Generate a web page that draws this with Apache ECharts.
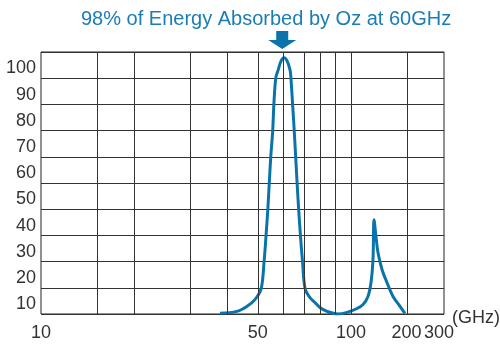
<!DOCTYPE html>
<html>
<head>
<meta charset="utf-8">
<script src="https://cdn.jsdelivr.net/npm/echarts@6/dist/echarts.min.js"></script>
<style>
  html, body { margin: 0; padding: 0; background: #fff; }
  #chart { width: 500px; height: 344px; }
</style>
</head>
<body>
<div id="chart"></div>
<script>
// frequency (GHz) and absorption (%)
const freqs = [37.8, 42.8, 46.1, 49.0, 51.3, 52.4, 53.2, 53.9, 54.5, 55.1, 55.9, 56.4, 57.2, 58.2, 59.5, 60.8,
  62.2, 63.6, 64.0, 64.8, 65.6, 66.3, 67.0, 67.8, 68.7, 69.8, 71.1, 73.8, 76.5, 79.4, 83.7, 90.8, 97.1,
  107.8, 116.2, 123.6, 128.4, 131.6, 133.3, 136.6, 140.1, 147.3, 156.7, 169.0, 184.4, 196.0]
const absorbed = [0.3, 1.0, 2.9, 5.5, 9.7, 19.6, 29.9, 39.8, 50.1, 60.0, 69.9, 80.2, 90.1, 93.1, 96.6, 97.8,
  96.6, 93.1, 90.1, 80.2, 69.9, 60.0, 50.1, 39.8, 29.9, 19.6, 9.7, 6.2, 4.4, 2.5, 1.0, 0.0, 0.6,
  2.1, 3.6, 6.7, 12.0, 20.8, 36.0, 29.5, 23.4, 17.0, 12.0, 6.7, 2.9, 0.2]

const gridFreqs = [15, 20, 30, 40, 50, 60, 70, 80, 90, 100, 200]
const xLabels = [10, 50, 100, 200, 300]
const yLabels = [10, 20, 30, 40, 50, 60, 70, 80, 90, 100]

// log scale up to 100 GHz, squeezed log scale above it (as drawn in the original)
const HI_SCALE = 0.595
const xPos = function(f) {
  return f <= 100 ? Math.log10(f) - 1 : 1 + HI_SCALE * Math.log10(f / 100)
}

// the y labels are printed inside the row under their grid line
const Y_LABEL_DROP = 6.3

const blue = '#0a73aa'
const font = 'Liberation Sans, Arial, sans-serif'

const chart = echarts.init(document.getElementById('chart'))
chart.setOption({
  animation: false,
  grid: {
    left: 41, right: 56, top: 52, bottom: 30,
    show: true,
    borderColor: '#222',
    borderWidth: 1
  },
  title: {
    text: '98% of Energy Absorbed by Oz at 60GHz',
    left: 76,
    top: 4,
    textStyle: { color: '#1b7db6', fontSize: 20, fontWeight: 'normal', fontFamily: font }
  },
  graphic: [
    {
      type: 'text', left: 452, top: 309,
      style: { text: '(GHz)', fill: '#333', font: '18px ' + font }
    }
  ],
  xAxis: {
    type: 'value',
    min: 0,
    max: 1.3,
    axisLine: { show: false },
    axisTick: { show: false },
    splitLine: { show: false },
    axisLabel: {
      customValues: xLabels.map(xPos),
      formatter: (v) => {
        let best = xLabels[0]
        xLabels.forEach(l => { if (Math.abs(xPos(l) - v) < Math.abs(xPos(best) - v)) best = l })
        return String(best)
      },
      margin: 10,
      color: '#333',
      fontSize: 18,
      fontFamily: font
    }
  },
  yAxis: {
    type: 'value',
    min: 0,
    max: 100,
    interval: 10,
    axisLine: { show: false },
    axisTick: { show: false },
    splitLine: { lineStyle: { color: '#333', width: 1 } },
    axisLabel: {
      customValues: yLabels.map(v => v - Y_LABEL_DROP),
      formatter: (v) => String(Math.round(v + Y_LABEL_DROP)),
      margin: 5,
      color: '#333',
      fontSize: 18,
      fontFamily: font
    }
  },
  series: [
    {
      // vertical grid lines
      type: 'line',
      data: [[0, 0]],
      showSymbol: false,
      lineStyle: { opacity: 0 },
      silent: true,
      z: 1,
      markLine: {
        silent: true,
        symbol: 'none',
        label: { show: false },
        lineStyle: { color: '#333', width: 1, type: 'solid' },
        emphasis: { disabled: true },
        data: gridFreqs.map(f => ({ xAxis: xPos(f) }))
      }
    },
    {
      type: 'line',
      data: freqs.map((f, i) => [xPos(f), absorbed[i]]),
      showSymbol: false,
      smooth: 0.35,
      lineStyle: { color: blue, width: 3 },
      z: 3,
      markPoint: {
        silent: true,
        symbol: 'path://M8,0 L20,0 L20,9 L28,9 L14,18 L0,9 L8,9 Z',
        symbolSize: [28, 18],
        symbolOffset: [0, -12],
        itemStyle: { color: blue },
        label: { show: false },
        data: [{ coord: [xPos(60), 100] }]
      }
    }
  ]
})
</script>
</body>
</html>
